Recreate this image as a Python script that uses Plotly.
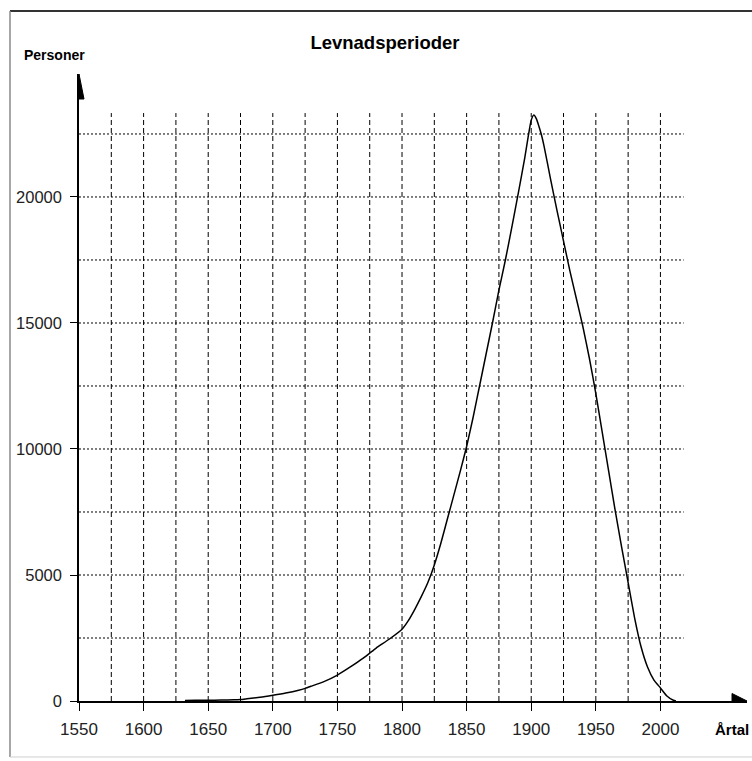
import plotly.graph_objects as go

# ---- data ----
years = [1632, 1640, 1650, 1660, 1670, 1675, 1680, 1690, 1700, 1710, 1720, 1725,
         1730, 1740, 1750, 1760, 1770, 1775, 1780, 1790, 1800, 1805, 1810, 1815,
         1820, 1825, 1830, 1835, 1840, 1845, 1850, 1855, 1860, 1865, 1870, 1875,
         1880, 1885, 1890, 1895, 1898, 1900, 1902, 1904, 1906, 1908, 1910, 1915,
         1920, 1925, 1930, 1935, 1940, 1945, 1950, 1955, 1960, 1965, 1970, 1975,
         1980, 1985, 1990, 1995, 2000, 2005, 2010, 2012]
persons = [20, 25, 30, 35, 45, 60, 90, 150, 230, 320, 430, 500,
           590, 780, 1030, 1350, 1700, 1900, 2100, 2450, 2850, 3200, 3650, 4150,
           4700, 5400, 6250, 7200, 8150, 9100, 10100, 11250, 12500, 13750, 15000, 16300,
           17500, 18800, 20150, 21550, 22500, 23050, 23250, 23100, 22800, 22450, 22000, 20700,
           19450, 18250, 17050, 15950, 14850, 13600, 12200, 10650, 9100, 7550, 6100, 4700,
           3300, 2150, 1350, 830, 520, 200, 30, 0]

x_ticks = [1550, 1600, 1650, 1700, 1750, 1800, 1850, 1900, 1950, 2000]
y_ticks = [0, 5000, 10000, 15000, 20000]
x_grid = [1575, 1600, 1625, 1650, 1675, 1700, 1725, 1750, 1775, 1800, 1825, 1850,
          1875, 1900, 1925, 1950, 1975, 2000]
y_grid = [2500, 5000, 7500, 10000, 12500, 15000, 17500, 20000, 22500]
grid_x_end = 2018
grid_y_end = 23330
x_range = [1550, 2067]
y_range = [0, 24880]

title = "Levnadsperioder"
y_label = "Personer"
x_label = "Årtal"

FONT = "Liberation Sans, Arial, sans-serif"

fig = go.Figure()
fig.add_trace(go.Scatter(x=years, y=persons, mode="lines",
                         line=dict(color="black", width=1.5, shape="spline", smoothing=0.5),
                         hoverinfo="x+y", showlegend=False))

shapes = []
for gx in x_grid:
    shapes.append(dict(type="line", xref="x", yref="y", x0=gx, x1=gx, y0=0, y1=grid_y_end,
                       line=dict(color="black", width=1, dash="5px,3px"), layer="below"))
for gy in y_grid:
    shapes.append(dict(type="line", xref="x", yref="y", x0=x_range[0], x1=grid_x_end, y0=gy, y1=gy,
                       line=dict(color="black", width=1, dash="2px,2px"), layer="below"))

# arrow heads at the axis ends
shapes.append(dict(type="path", xref="x", yref="paper", xsizemode="pixel", ysizemode="pixel",
                   xanchor=x_range[0], yanchor=1, path="M-5,-25 L5,-25 L0,0 Z",
                   fillcolor="black", line=dict(color="black", width=1)))
shapes.append(dict(type="path", xref="paper", yref="y", xsizemode="pixel", ysizemode="pixel",
                   xanchor=1, yanchor=0, path="M0,0 L-15,7.5 L-15,-7.5 Z",
                   fillcolor="black", line=dict(color="black", width=1)))

# outer frame
shapes.append(dict(type="line", xref="paper", yref="paper", x0=-0.1033, x1=1.01, y0=1.1005, y1=1.1005,
                   line=dict(color="#333333", width=2)))
shapes.append(dict(type="line", xref="paper", yref="paper", x0=-0.1033, x1=-0.1033, y0=-0.0893, y1=1.1005,
                   line=dict(color="#8a8a8a", width=1.5)))
shapes.append(dict(type="line", xref="paper", yref="paper", x0=-0.1033, x1=1.01, y0=-0.0893, y1=-0.0893,
                   line=dict(color="#cfcfcf", width=1)))

fig.update_layout(
    width=752, height=761,
    margin=dict(l=79, r=5, t=74, b=60, autoexpand=False),
    paper_bgcolor="white", plot_bgcolor="white",
    shapes=shapes,
    title=dict(text=f"<b>{title}</b>", x=0.458, xref="paper", xanchor="center",
               y=1 - 43 / 761, yref="container", yanchor="middle",
               font=dict(family=FONT, size=18.5, color="black")),
    annotations=[
        dict(text=f"<b>{y_label}</b>", xref="paper", yref="paper", x=-0.037, y=1.03,
             xanchor="center", yanchor="middle", showarrow=False,
             font=dict(family=FONT, size=14, color="black")),
        dict(text=f"<b>{x_label}</b>", xref="paper", yref="paper", x=0.978, y=-0.046,
             xanchor="center", yanchor="middle", showarrow=False,
             font=dict(family=FONT, size=15, color="black")),
    ],
    xaxis=dict(range=x_range, tickvals=x_ticks, ticktext=[str(v) for v in x_ticks],
               showgrid=False, zeroline=False, showline=True, linecolor="black", linewidth=1.5,
               ticks="outside", ticklen=8, tickwidth=1, tickcolor="black",
               ticklabelstandoff=4, automargin=False,
               tickfont=dict(family=FONT, size=17, color="#222"), fixedrange=True),
    yaxis=dict(range=y_range, tickvals=y_ticks, ticktext=[str(v) for v in y_ticks],
               showgrid=False, zeroline=False, showline=True, linecolor="black", linewidth=1.5,
               ticks="outside", ticklen=7, tickwidth=1, tickcolor="black",
               ticklabelstandoff=5, automargin=False,
               tickfont=dict(family=FONT, size=16.5, color="#222"), fixedrange=True),
)

fig.write_html("out.html", config={"displayModeBar": False},
               post_script="document.body.style.margin='0';document.body.style.overflow='hidden';")
